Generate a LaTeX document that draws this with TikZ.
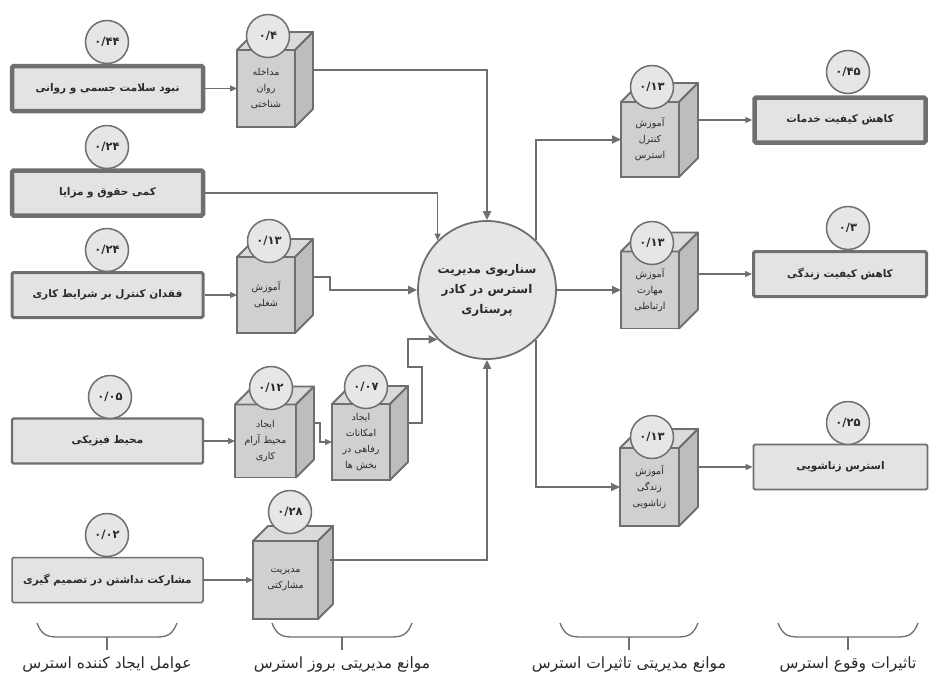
\documentclass[tikz,border=0pt]{standalone}
\usepackage{fontspec}
\newfontfamily\arabicfont[Script=Arabic]{DejaVu Sans}
\TeXXeTstate=1
\usetikzlibrary{arrows.meta,calc}
\definecolor{strk}{HTML}{6F6F6F}
\definecolor{txt}{HTML}{2A2A2A}
\definecolor{boxfill}{HTML}{E3E3E3}
\definecolor{cubefrontc}{HTML}{D0D0D0}
\definecolor{cubetopc}{HTML}{DADADA}
\definecolor{cubesidec}{HTML}{BDBDBD}
\definecolor{circfill}{HTML}{E6E6E6}
\newcommand\fa[1]{\beginR #1\endR}
\tikzset{
  base/.style={draw=strk, text=txt},
  factor/.style={base, fill=boxfill, minimum width=191, minimum height=45, rounded corners=1.5pt, inner sep=2pt,
    font=\arabicfont\bfseries\fontsize{10.5}{12}\selectfont},
  val/.style={base, circle, fill=circfill, line width=1.5pt, minimum size=43, inner sep=0pt,
    font=\arabicfont\bfseries\fontsize{11.5}{13}\selectfont},
  cubefront/.style={base, fill=cubefrontc, line width=1.8pt, outer sep=0pt, inner sep=1pt, align=center,
    font=\arabicfont\fontsize{9.5}{16}\selectfont},
  cubeface/.style={draw=strk, line width=1.8pt, line join=round},
  hub/.style={base, circle, fill=circfill, line width=1.8pt, minimum size=138, align=center, inner sep=0pt,
    font=\arabicfont\bfseries\fontsize{12}{20}\selectfont},
  thinarrow/.style={draw=strk, line width=1.2pt, -{Triangle[length=7pt,width=6pt]}},
  thickarrow/.style={draw=strk, line width=2pt, -{Triangle[length=9pt,width=8pt]}},
  bracestyle/.style={draw=strk, line width=1.3pt},
  grouplabel/.style={text=txt, inner sep=0pt, font=\arabicfont\fontsize{15.5}{17}\selectfont},
}
\newcommand\mycube[6]{%
  \node[cubefront, minimum width=#3, minimum height=#4] (#1) at #2 {#6};
  \draw[cubeface, fill=cubetopc] (#1.north west) -- ++(#5,-#5) -- ++(#3,0) -- (#1.north east) -- cycle;
  \draw[cubeface, fill=cubesidec] (#1.north east) -- ++(#5,-#5) -- ++(0,#4) -- (#1.south east) -- cycle;
}
\newcommand\mybrace[3]{%
  \draw[bracestyle] (#1,623) .. controls (#1+4,633) and (#1+8,637) .. (#1+20,637) -- (#2-20,637)
     .. controls (#2-8,637) and (#2-4,633) .. (#2,623);
  \draw[bracestyle] (#3,637) -- (#3,650);
}
\begin{document}
\begin{tikzpicture}[x=1pt,y=-1pt]
\useasboundingbox (0,0) rectangle (938,678);

% ---------- left factors ----------
\node[factor, line width=4.5pt] (L1) at (107.5,88.5) {\fa{نبود سلامت جسمی و روانی}};
\node[factor, line width=4.5pt] (L2) at (107.5,193) {\fa{کمی حقوق و مزایا}};
\node[factor, line width=3pt] (L3) at (107.5,295) {\fa{فقدان کنترل بر شرایط کاری}};
\node[factor, line width=2.2pt] (L4) at (107.5,441) {\fa{محیط فیزیکی}};
\node[factor, line width=1.5pt] (L5) at (107.5,580) {\fa{مشارکت نداشتن در تصمیم گیری}};

\node[val] (vL1) at (107,42) {۰/۴۴};
\node[val] (vL2) at (107,147) {۰/۲۴};
\node[val] (vL3) at (107,250) {۰/۲۴};
\node[val] (vL4) at (110,397) {۰/۰۵};
\node[val] (vL5) at (107,535) {۰/۰۲};

% ---------- left cubes ----------
\mycube{C1}{(266,88.5)}{58}{77}{18}{\fa{مداخله}\\\fa{روان}\\\fa{شناختی}}
\mycube{C2}{(266,295)}{58}{76}{18}{\fa{آموزش}\\\fa{شغلی}}
\mycube{C3}{(265.5,441)}{61}{73}{18}{\fa{ایجاد}\\\fa{محیط آرام}\\\fa{کاری}}
\mycube{C4}{(361,442)}{58}{76}{18}{\fa{ایجاد}\\\fa{امکانات}\\\fa{رفاهی در}\\\fa{بخش ها}}
\mycube{C5}{(285.5,580)}{65}{78}{15}{\fa{مدیریت}\\\fa{مشارکتی}}

\node[val] (vC1) at (268,36) {۰/۴};
\node[val] (vC2) at (269,241) {۰/۱۳};
\node[val] (vC3) at (271,388) {۰/۱۲};
\node[val] (vC4) at (366,387) {۰/۰۷};
\node[val] (vC5) at (290,512) {۰/۲۸};

% ---------- hub ----------
\node[hub] (ctr) at (487,290) {\fa{سناریوی مدیریت}\\\fa{استرس در کادر}\\\fa{پرستاری}};

% ---------- right cubes ----------
\mycube{R1}{(650,139.5)}{58}{75}{19}{\fa{آموزش}\\\fa{کنترل}\\\fa{استرس}}
\mycube{R2}{(650,290)}{58}{77}{19}{\fa{آموزش}\\\fa{مهارت}\\\fa{ارتباطی}}
\mycube{R3}{(649.5,487)}{59}{78}{19}{\fa{آموزش}\\\fa{زندگی}\\\fa{زناشویی}}

\node[val] (vR1) at (652,87) {۰/۱۳};
\node[val] (vR2) at (652,243) {۰/۱۳};
\node[val] (vR3) at (652,437) {۰/۱۳};

% ---------- right outcomes ----------
\node[factor, line width=4.5pt, minimum width=171] (O1) at (840,120) {\fa{کاهش کیفیت خدمات}};
\node[factor, line width=3pt, minimum width=173] (O2) at (840,274) {\fa{کاهش کیفیت زندگی}};
\node[factor, line width=1.8pt, minimum width=174] (O3) at (840.5,467) {\fa{استرس زناشویی}};

\node[val] (vO1) at (848,72) {۰/۴۵};
\node[val] (vO2) at (848,228) {۰/۳};
\node[val] (vO3) at (848,423) {۰/۲۵};

% ---------- connector start points on cube sides ----------
\coordinate (c1o) at (313,70);
\coordinate (c2o) at (313,277);
\coordinate (c3o) at (314,423);
\coordinate (c4o) at (408,423);
\coordinate (c5o) at (330,560);
\coordinate (r1o) at (697,120);
\coordinate (r2o) at (697,274);
\coordinate (r3o) at (697,467);

% ---------- connectors ----------
\draw[thinarrow] (L1.east) -- (C1.west);
\draw[thinarrow] (L3.east) -- (C2.west);
\draw[thinarrow] (L4.east) -- (C3.west);
\draw[thinarrow] (L5.east) -- (C5.west);
\draw[thickarrow] (c1o) -| (ctr.north);
\draw[thinarrow] (L2.east) -| (ctr.135);
\draw[thickarrow] (c2o) -- ++(17,0) |- (ctr.west);
\draw[thinarrow] (c3o) -- ++(6,0) |- (C4.west);
\draw[thickarrow] (c4o) -- (422,423) -- (422,367) -- (408,367) |- (ctr.225);
\draw[thickarrow] (c5o) -| (ctr.south);
\draw[thickarrow] (ctr.east) -- (R2.west);
\draw[thickarrow] (ctr.46) |- (R1.west);
\draw[thickarrow] (ctr.-46) |- (R3.west);
\draw[thinarrow] (r1o) -- (O1.west);
\draw[thinarrow] (r2o) -- (O2.west);
\draw[thinarrow] (r3o) -- (O3.west);

% ---------- braces and group labels ----------
\mybrace{37}{177}{107}
\mybrace{272}{412}{342}
\mybrace{560}{698}{629}
\mybrace{778}{918}{848}
\node[grouplabel] (g1) at (107,664) {\fa{عوامل ایجاد کننده استرس}};
\node[grouplabel] (g2) at (342,664) {\fa{موانع مدیریتی بروز استرس}};
\node[grouplabel] (g3) at (629,664) {\fa{موانع مدیریتی تاثیرات استرس}};
\node[grouplabel] (g4) at (848,664) {\fa{تاثیرات وقوع استرس}};
\end{tikzpicture}
\end{document}
